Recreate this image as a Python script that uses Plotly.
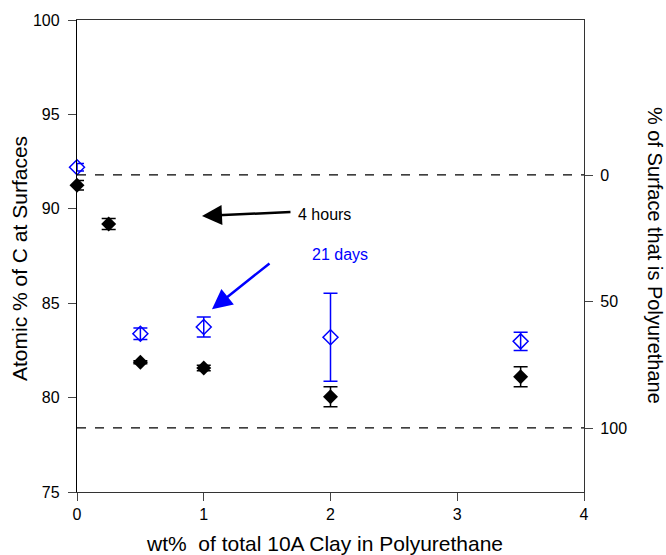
import plotly.graph_objects as go

# Data
x_4h = [0, 0.25, 0.5, 1, 2, 3.5]
y_4h = [91.25, 89.2, 81.87, 81.57, 80.05, 81.1]
e_4h = [0.25, 0.29, 0.08, 0.15, 0.53, 0.53]

x_21d = [0, 0.5, 1, 2, 3.5]
y_21d = [92.2, 83.38, 83.74, 83.2, 82.98]
e_21d = [0.2, 0.3, 0.53, 2.33, 0.48]

ref_lines = [91.8, 78.4]  # 0% and 100% polyurethane levels
right_ticks = [0, 50, 100]
right_range = [125.3, -61.3]

FONT = "Liberation Sans, Arial, sans-serif"

fig = go.Figure()
fig.add_trace(go.Scatter(
    x=x_4h, y=y_4h, mode="markers", cliponaxis=False,
    marker=dict(symbol="diamond", size=11.5, color="black"),
    error_y=dict(type="data", array=e_4h, color="black", thickness=1.5, width=7),
    showlegend=False))
fig.add_trace(go.Scatter(
    x=x_21d, y=y_21d, mode="markers", cliponaxis=False,
    marker=dict(symbol="diamond-open", size=11.5, color="blue", line=dict(width=1.5)),
    error_y=dict(type="data", array=e_21d, color="blue", thickness=1.5, width=7),
    showlegend=False))
# invisible trace for right axis
fig.add_trace(go.Scatter(x=[None], y=[None], yaxis="y2", showlegend=False))

for y in ref_lines:
    fig.add_shape(type="line", xref="paper", x0=0, x1=1, yref="y", y0=y, y1=y,
                  line=dict(color="black", width=1.3, dash="dash"))

fig.add_annotation(x=0.986, y=89.62, ax=90, ay=-4, xref="x", yref="y",
                   showarrow=True, arrowhead=2, arrowsize=1.6, arrowwidth=2.5,
                   arrowcolor="black", text="")
fig.add_annotation(x=1.73, y=89.72, xref="x", yref="y", text="4 hours", showarrow=False,
                   xanchor="left", font=dict(size=16, color="black", family=FONT))
fig.add_annotation(x=1.065, y=84.68, ax=59, ay=-47, xref="x", yref="y",
                   showarrow=True, arrowhead=2, arrowsize=1.6, arrowwidth=2.5,
                   arrowcolor="blue", text="")
fig.add_annotation(x=1.835, y=87.6, xref="x", yref="y", text="21 days", showarrow=False,
                   xanchor="left", font=dict(size=16, color="blue", family=FONT))

# axis titles
fig.add_annotation(x=1.0, xref="paper", xshift=71, y=0.5, yref="paper", yshift=1,
                   xanchor="center", yanchor="middle",
                   text="% of Surface that is Polyurethane", textangle=90,
                   showarrow=False, font=dict(size=20, color="black", family=FONT))
fig.add_annotation(x=0.0, xref="paper", xshift=-58, y=0.5, yref="paper", yshift=-3,
                   xanchor="center", yanchor="middle",
                   text="Atomic % of C at Surfaces", textangle=-90,
                   showarrow=False, font=dict(size=21, color="black", family=FONT))
fig.add_annotation(x=0.5, xref="paper", xshift=-6, y=0.0, yref="paper", yshift=-51,
                   xanchor="center", yanchor="middle",
                   text="wt%\u00a0 of total 10A Clay in Polyurethane",
                   showarrow=False, font=dict(size=21, color="black", family=FONT))

fig.update_layout(
    width=666, height=555,
    margin=dict(l=77, r=82, t=20, b=63, autoexpand=False),
    plot_bgcolor="white", paper_bgcolor="white",
    font=dict(family=FONT, size=16, color="black"),
    xaxis=dict(range=[0, 4], tickvals=[0, 1, 2, 3, 4], ticks="outside", ticklen=8,
               showline=True, linecolor="#333", linewidth=1.3, mirror=True,
               showgrid=False, zeroline=False, automargin=False),
    yaxis=dict(range=[75, 100], tickvals=[75, 80, 85, 90, 95, 100], ticks="outside", ticklen=8,
               ticklabelstandoff=5,
               showline=True, linecolor="black", linewidth=1.3,
               showgrid=False, zeroline=False, automargin=False),
    yaxis2=dict(overlaying="y", side="right", range=right_range, tickvals=right_ticks,
                ticks="outside", ticklen=8, ticklabelstandoff=4,
                showline=True, linecolor="#333", linewidth=1.3,
                showgrid=False, zeroline=False, automargin=False),
)

fig.write_html("out.html", config={"displayModeBar": False},
               post_script="document.body.style.margin='0';document.body.style.overflow='hidden';")
